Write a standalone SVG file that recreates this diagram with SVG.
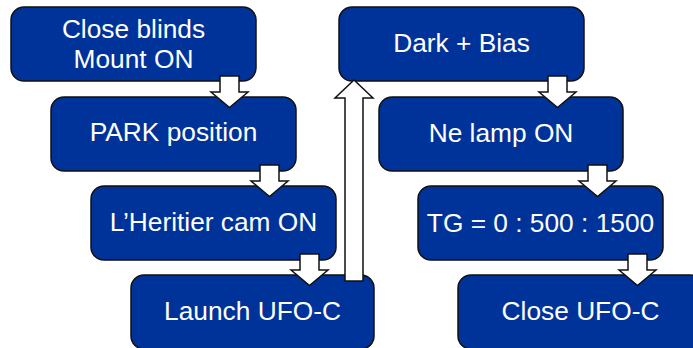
<svg xmlns="http://www.w3.org/2000/svg" width="693" height="348" viewBox="0 0 693 348">
<style>
.box{fill:#003399;stroke:#111;stroke-width:1.5}
.t{font-family:"Liberation Sans",Arial,sans-serif;font-size:26.3px;fill:#fff;text-anchor:middle}
.arr{fill:#fff;stroke:#111;stroke-width:1.5;stroke-linejoin:miter}
</style>
<rect width="693" height="348" fill="#fff"/>
<g id="n1"><rect class="box" x="11" y="7" width="245" height="74" rx="13"/><text class="t" x="133.5" y="38">Close blinds</text><text class="t" x="133.5" y="68">Mount ON</text></g>
<g id="n2"><rect class="box" x="51" y="97" width="245" height="74" rx="13"/><text class="t" x="173.5" y="141">PARK position</text></g>
<g id="n3"><rect class="box" x="91" y="186" width="245" height="74" rx="13"/><text class="t" x="213.5" y="231">L’Heritier cam ON</text></g>
<g id="n4"><rect class="box" x="131" y="275" width="243" height="74" rx="13"/><text class="t" x="252.5" y="320">Launch UFO-C</text></g>
<g id="n5"><rect class="box" x="339" y="7" width="245" height="74" rx="13"/><text class="t" x="461.5" y="52">Dark + Bias</text></g>
<g id="n6"><rect class="box" x="379" y="97" width="244" height="74" rx="13"/><text class="t" x="501" y="142">Ne lamp ON</text></g>
<g id="n7"><rect class="box" x="418" y="186" width="245" height="74" rx="13"/><text class="t" x="540.5" y="232">TG = 0 : 500 : 1500</text></g>
<g id="n8"><rect class="box" x="458" y="275" width="245" height="74" rx="13"/><text class="t" x="580.5" y="320">Close UFO-C</text></g>
<g id="connectors">
<defs>
<path id="down" d="M-9.5,-21 H9.5 V-5 H18.5 L0,10.5 L-18.5,-5 H-9.5 Z"/>
</defs>
<use href="#down" class="arr" x="229.5" y="97"/>
<use href="#down" class="arr" x="269.5" y="186"/>
<use href="#down" class="arr" x="309.5" y="275"/>
<use href="#down" class="arr" x="557.5" y="97"/>
<use href="#down" class="arr" x="597.5" y="186"/>
<use href="#down" class="arr" x="637.5" y="275"/>
<path class="arr" d="M345,281 V98 H335 L354,80 L373,98 H363 V281 Z"/>
</g>
</svg>
